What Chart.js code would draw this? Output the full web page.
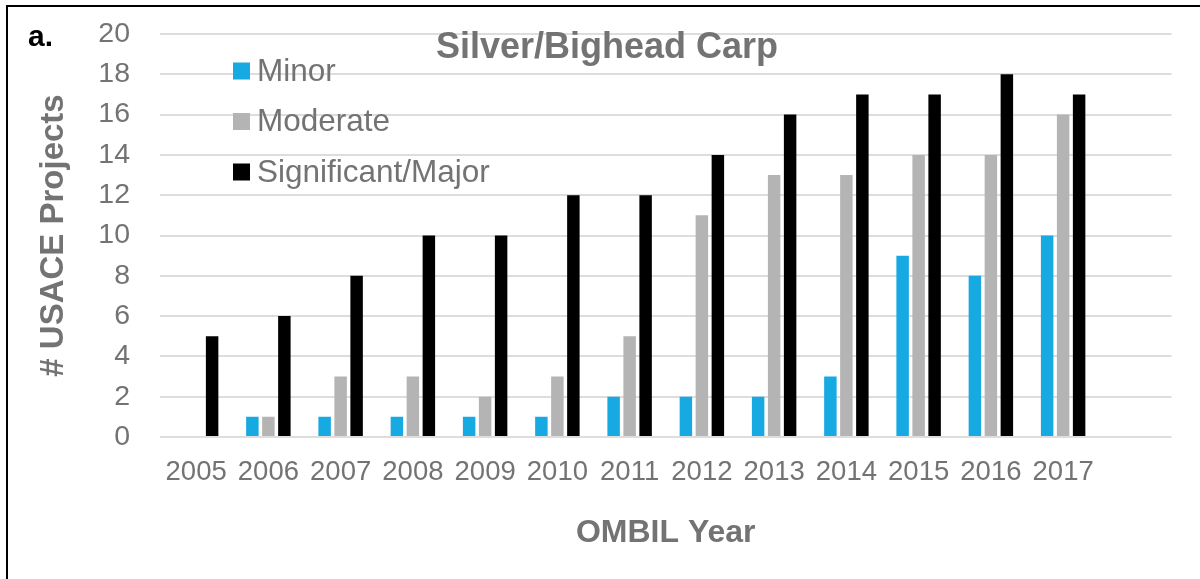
<!DOCTYPE html>
<html>
<head>
<meta charset="utf-8">
<script src="https://cdn.jsdelivr.net/npm/chart.js@4/dist/chart.umd.min.js"></script>
<style>
  html, body { margin: 0; padding: 0; background: #fff; }
  #wrap { position: relative; width: 1200px; height: 579px; overflow: hidden; }
  #c { display: block; }
  #frame { position: absolute; left: 6px; top: 5px; width: 1300px; height: 700px;
           border-top: 2px solid #000; border-left: 2px solid #000; pointer-events: none; }
</style>
</head>
<body>
<div id="wrap">
  <canvas id="c" width="1200" height="579"></canvas>
  <div id="frame"></div>
</div>
<script>
const years = ["2005","2006","2007","2008","2009","2010","2011","2012","2013","2014","2015","2016","2017",""];
const minor       = [0, 1, 1, 1, 1, 1, 2, 2, 2, 3, 9, 8, 10, null];
const moderate    = [0, 1, 3, 3, 2, 3, 5, 11, 13, 13, 14, 14, 16, null];
const significant = [5, 6, 8, 10, 10, 12, 12, 14, 16, 17, 17, 18, 17, null];
const seriesNames = ["Minor", "Moderate", "Significant/Major"];
const seriesColors = ["#17A9E1", "#B4B4B4", "#000000"];
const yTicks = [0, 2, 4, 6, 8, 10, 12, 14, 16, 18, 20];
const chartTitle = "Silver/Bighead Carp";
const panelLabel = "a.";
const xTitle = "OMBIL Year";
const yTitle = "# USACE Projects";

const FONT = "'Liberation Sans', Arial, sans-serif";
const GRAY = "#737373";

const overlay = {
  id: 'overlay',
  afterDraw(chart) {
    const ctx = chart.ctx;
    ctx.save();
    ctx.fillStyle = "#000";
    ctx.font = "bold 30px " + FONT;
    ctx.textAlign = "left";
    ctx.textBaseline = "alphabetic";
    ctx.fillText(panelLabel, 28, 46);
    ctx.fillStyle = GRAY;
    ctx.font = "bold 36px " + FONT;
    ctx.textAlign = "center";
    ctx.textBaseline = "middle";
    ctx.fillText(chartTitle, 607, 48);
    ctx.font = "31.5px " + FONT;
    ctx.textAlign = "left";
    chart.data.datasets.forEach((ds, i) => {
      const cy = 71 + i * 50.5;
      ctx.fillStyle = ds.backgroundColor;
      ctx.fillRect(233, cy - 8.5, 17, 17);
      ctx.fillStyle = GRAY;
      ctx.fillText(ds.label, 257, cy + 1);
    });
    ctx.restore();
  }
};

const seriesData = [minor, moderate, significant];
new Chart(document.getElementById('c'), {
  type: 'bar',
  data: {
    labels: years,
    datasets: seriesNames.map((n, i) => ({
      label: n,
      data: seriesData[i],
      backgroundColor: seriesColors[i],
      borderWidth: 0,
      categoryPercentage: 0.664,
      barPercentage: 0.78
    }))
  },
  options: {
    responsive: false,
    animation: false,
    layout: { padding: { left: 20, right: 28.5, top: 34, bottom: 0 } },
    plugins: { legend: { display: false }, title: { display: false }, tooltip: { enabled: false } },
    scales: {
      x: {
        grid: { display: false, drawTicks: false },
        border: { display: false },
        ticks: { color: GRAY, font: { family: FONT, size: 27.5 }, padding: 19, maxRotation: 0, autoSkip: false },
        title: { display: true, text: xTitle, color: GRAY, font: { family: FONT, size: 32, weight: 'bold' }, padding: { top: 0, bottom: 27 } },
        afterFit(scale) { scale.height = 142; }
      },
      y: {
        min: 0, max: 20,
        afterBuildTicks(scale) { scale.ticks = yTicks.map(v => ({ value: v })); },
        grid: { color: "#DDDDDD", lineWidth: 2, drawTicks: true, tickLength: 30, tickColor: "rgba(0,0,0,0)" },
        border: { display: false },
        ticks: { color: GRAY, font: { family: FONT, size: 28.5 }, padding: 0 },
        title: { display: true, text: yTitle, color: GRAY, font: { family: FONT, size: 33, weight: 'bold' }, padding: { top: 14, bottom: 0 } },
        afterFit(scale) { scale.width = 140; }
      }
    }
  },
  plugins: [overlay]
});
</script>
</body>
</html>
